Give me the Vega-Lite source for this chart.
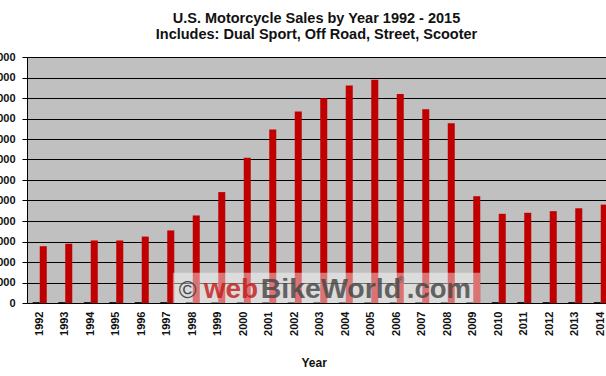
{
  "$schema": "https://vega.github.io/schema/vega-lite/v6.json",
  "width": 579,
  "height": 246,
  "autosize": "none",
  "padding": {"left": 27, "top": 57, "right": 0, "bottom": 73},
  "background": "#ffffff",
  "config": {
    "font": "Liberation Sans",
    "view": {"fill": "#c0c0c0", "stroke": "#8c8c8c", "strokeWidth": 1}
  },
  "title": {
    "text": ["U.S. Motorcycle Sales by Year 1992 - 2015", "Includes: Dual Sport, Off Road, Street, Scooter"],
    "font": "Liberation Sans",
    "fontSize": 14.5,
    "fontWeight": "bold",
    "color": "#111111",
    "anchor": "middle",
    "offset": 9,
    "lineHeight": 15.5
  },
  "datasets": {
    "sales": [
      {"year": "1992", "series": "a", "value": 5000}, {"year": "1992", "series": "b", "value": 277000},
      {"year": "1993", "series": "a", "value": 5000}, {"year": "1993", "series": "b", "value": 289000},
      {"year": "1994", "series": "a", "value": 5000}, {"year": "1994", "series": "b", "value": 305000},
      {"year": "1995", "series": "a", "value": 5000}, {"year": "1995", "series": "b", "value": 305000},
      {"year": "1996", "series": "a", "value": 5000}, {"year": "1996", "series": "b", "value": 324000},
      {"year": "1997", "series": "a", "value": 5000}, {"year": "1997", "series": "b", "value": 354000},
      {"year": "1998", "series": "a", "value": 5000}, {"year": "1998", "series": "b", "value": 427000},
      {"year": "1999", "series": "a", "value": 5000}, {"year": "1999", "series": "b", "value": 541000},
      {"year": "2000", "series": "a", "value": 5000}, {"year": "2000", "series": "b", "value": 708000},
      {"year": "2001", "series": "a", "value": 5000}, {"year": "2001", "series": "b", "value": 846000},
      {"year": "2002", "series": "a", "value": 5000}, {"year": "2002", "series": "b", "value": 934000},
      {"year": "2003", "series": "a", "value": 5000}, {"year": "2003", "series": "b", "value": 999000},
      {"year": "2004", "series": "a", "value": 5000}, {"year": "2004", "series": "b", "value": 1061000},
      {"year": "2005", "series": "a", "value": 5000}, {"year": "2005", "series": "b", "value": 1089000},
      {"year": "2006", "series": "a", "value": 5000}, {"year": "2006", "series": "b", "value": 1020000},
      {"year": "2007", "series": "a", "value": 5000}, {"year": "2007", "series": "b", "value": 945000},
      {"year": "2008", "series": "a", "value": 5000}, {"year": "2008", "series": "b", "value": 877000},
      {"year": "2009", "series": "a", "value": 5000}, {"year": "2009", "series": "b", "value": 521000},
      {"year": "2010", "series": "a", "value": 5000}, {"year": "2010", "series": "b", "value": 435000},
      {"year": "2011", "series": "a", "value": 5000}, {"year": "2011", "series": "b", "value": 440000},
      {"year": "2012", "series": "a", "value": 5000}, {"year": "2012", "series": "b", "value": 448000},
      {"year": "2013", "series": "a", "value": 5000}, {"year": "2013", "series": "b", "value": 462000},
      {"year": "2014", "series": "a", "value": 5000}, {"year": "2014", "series": "b", "value": 480000},
      {"year": "2015", "series": "a", "value": 5000}, {"year": "2015", "series": "b", "value": 492000}
    ],
    "band": [{"from": "1997", "to": "2009", "lo": 0, "hi": 147000}],
    "mark": [{"year": "2002", "value": 22000}]
  },
  "layer": [
    {
      "data": {"name": "sales"},
      "mark": {"type": "bar", "clip": true},
      "encoding": {
        "x": {
          "field": "year", "type": "nominal", "sort": null,
          "scale": {"range": [0, 612], "paddingInner": 0.45, "paddingOuter": 0.225},
          "axis": {
            "title": "Year", "titleFontSize": 12, "titleFontWeight": "bold", "titleColor": "#111111",
            "titleAnchor": "start", "titleX": 274, "titlePadding": 22,
            "labelAngle": 270, "labelFontSize": 11, "labelFontWeight": "bold", "labelColor": "#111111",
            "labelPadding": 8, "ticks": false, "domain": false, "grid": false, "labelOverlap": false
          }
        },
        "xOffset": {"field": "series", "type": "nominal", "scale": {"domain": ["a", "b"], "paddingInner": 0, "paddingOuter": 0}},
        "y": {
          "field": "value", "type": "quantitative",
          "scale": {"domain": [0, 1200000], "nice": false},
          "axis": {
            "title": null, "values": [0,100000,200000,300000,400000,500000,600000,700000,800000,900000,1000000,1100000,1200000],
            "tickCount": 20,
            "format": ",d", "labelFontSize": 11, "labelFontWeight": "bold", "labelColor": "#111111", "labelOverlap": false,
            "labelPadding": 7, "tickSize": 5, "tickColor": "#000000", "domainColor": "#000000",
            "gridColor": "#000000", "gridOpacity": 1, "gridWidth": 1
          }
        },
        "color": {"field": "series", "type": "nominal", "scale": {"domain": ["a", "b"], "range": ["#222222", "#c00000"]}, "legend": null}
      }
    },
    {
      "data": {"name": "band"},
      "mark": {"type": "rect", "color": "#ffffff", "opacity": 0.45},
      "encoding": {
        "x": {"field": "from", "type": "nominal", "bandPosition": 0.9},
        "x2": {"field": "to", "bandPosition": 1},
        "y": {"field": "lo", "type": "quantitative"},
        "y2": {"field": "hi"}
      }
    },
    {
      "data": {"name": "mark"},
      "mark": {"type": "text", "text": "©", "align": "left", "baseline": "alphabetic", "dx": -116, "fontSize": 24, "color": "#3a3a3a", "opacity": 0.9},
      "encoding": {"x": {"field": "year", "type": "nominal"}, "y": {"field": "value", "type": "quantitative"}}
    },
    {
      "data": {"name": "mark"},
      "mark": {"type": "text", "text": "web", "align": "left", "baseline": "alphabetic", "dx": -91, "fontSize": 28, "fontWeight": "bold", "color": "#c41a1a", "opacity": 0.8},
      "encoding": {"x": {"field": "year", "type": "nominal"}, "y": {"field": "value", "type": "quantitative"}}
    },
    {
      "data": {"name": "mark"},
      "mark": {"type": "text", "text": "BikeWorld", "align": "left", "baseline": "alphabetic", "dx": -34, "fontSize": 28.5, "fontWeight": "bold", "color": "#444444", "opacity": 0.8},
      "encoding": {"x": {"field": "year", "type": "nominal"}, "y": {"field": "value", "type": "quantitative"}}
    },
    {
      "data": {"name": "mark"},
      "mark": {"type": "text", "text": ".com", "align": "left", "baseline": "alphabetic", "dx": 112, "fontSize": 27.5, "fontWeight": "bold", "color": "#444444", "opacity": 0.8},
      "encoding": {"x": {"field": "year", "type": "nominal"}, "y": {"field": "value", "type": "quantitative"}}
    },
    {
      "data": {"name": "mark"},
      "mark": {"type": "text", "text": "®", "align": "left", "baseline": "alphabetic", "dx": 103, "dy": -15, "fontSize": 9, "color": "#444444", "opacity": 0.8},
      "encoding": {"x": {"field": "year", "type": "nominal"}, "y": {"field": "value", "type": "quantitative"}}
    }
  ]
}
